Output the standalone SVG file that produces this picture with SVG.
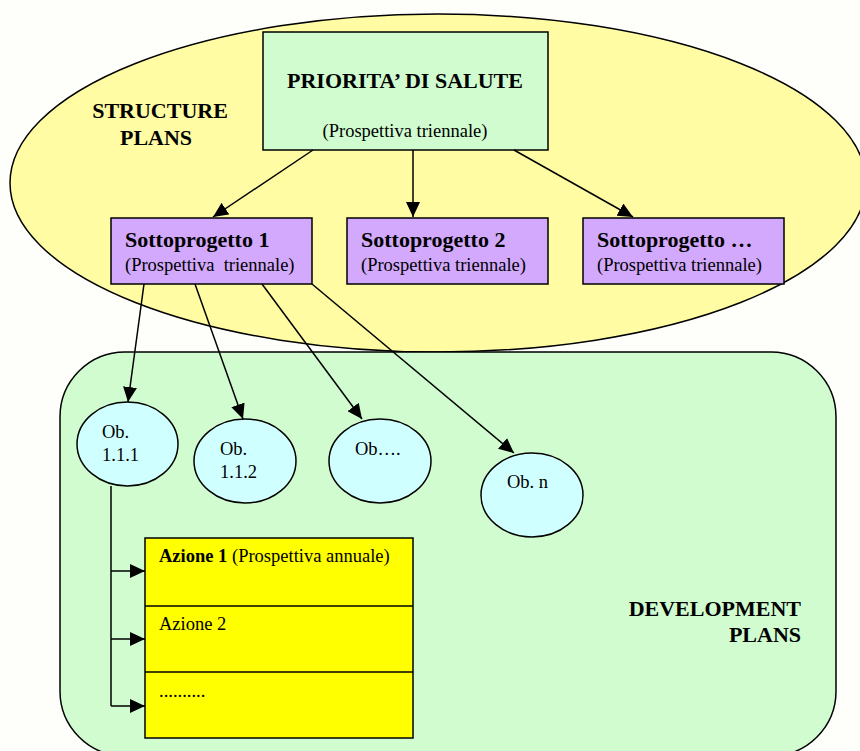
<svg xmlns="http://www.w3.org/2000/svg" width="860" height="751" viewBox="0 0 860 751">
<style>
.t{font-family:"Liberation Serif","Times New Roman",serif;fill:#000}
.b{font-weight:bold;font-size:22px}
.n{font-size:18.5px}
.ln{stroke:#000;stroke-width:1.5;fill:none}
.box{stroke:#000;stroke-width:1.5}
</style>
<defs>
<marker id="ah" markerUnits="userSpaceOnUse" markerWidth="16" markerHeight="14" refX="15" refY="7" orient="auto">
<path d="M0,0 L15,7 L0,14 z" fill="#000"/>
</marker>
</defs>
<rect width="860" height="751" fill="#fefefb"/>
<g id="structure-plans">
<ellipse cx="438" cy="183" rx="428" ry="169" fill="#fffca3" stroke="#000" stroke-width="1.5"/>
<text class="t b" x="160" y="118" text-anchor="middle">STRUCTURE</text>
<text class="t b" x="156" y="145" text-anchor="middle">PLANS</text>
</g>
<g id="development-plans">
<rect x="60" y="352" width="776" height="404" rx="65" ry="65" fill="#d0fcd0" stroke="#000" stroke-width="1.5"/>
<text class="t b" x="801" y="616" text-anchor="end">DEVELOPMENT</text>
<text class="t b" x="801" y="642" text-anchor="end">PLANS</text>
</g>
<g id="priorita">
<rect class="box" x="263" y="32" width="285" height="118" fill="#d0fcd0"/>
<text class="t b" x="405" y="88" text-anchor="middle">PRIORITA’ DI SALUTE</text>
<text class="t n" x="405" y="137" text-anchor="middle">(Prospettiva triennale)</text>
</g>
<g id="sottoprogetto1">
<rect class="box" x="111" y="218" width="201" height="66" fill="#d2a9fc"/>
<text class="t b" x="125" y="247">Sottoprogetto 1</text>
<text class="t n" x="125" y="271" xml:space="preserve">(Prospettiva  triennale)</text>
</g>
<g id="sottoprogetto2">
<rect class="box" x="347" y="218" width="201" height="66" fill="#d2a9fc"/>
<text class="t b" x="361" y="247">Sottoprogetto 2</text>
<text class="t n" x="361" y="271">(Prospettiva triennale)</text>
</g>
<g id="sottoprogetto3">
<rect class="box" x="583" y="218" width="201" height="66" fill="#d2a9fc"/>
<text class="t b" x="597" y="247">Sottoprogetto …</text>
<text class="t n" x="597" y="271">(Prospettiva triennale)</text>
</g>
<g id="ob111">
<ellipse class="box" cx="127.5" cy="444" rx="50.5" ry="42" fill="#d0ffff"/>
<text class="t n" x="102" y="438">Ob.</text>
<text class="t n" x="102" y="461">1.1.1</text>
</g>
<g id="ob112">
<ellipse class="box" cx="245" cy="461" rx="51" ry="42" fill="#d0ffff"/>
<text class="t n" x="220" y="455">Ob.</text>
<text class="t n" x="220" y="478">1.1.2</text>
</g>
<g id="ob-dots">
<ellipse class="box" cx="380" cy="461" rx="51" ry="42" fill="#d0ffff"/>
<text class="t n" x="355" y="455">Ob….</text>
</g>
<g id="ob-n">
<ellipse class="box" cx="532" cy="495" rx="51" ry="42" fill="#d0ffff"/>
<text class="t n" x="507" y="488">Ob. n</text>
</g>
<g id="azioni">
<rect class="box" x="145" y="538" width="268" height="200" fill="#ffff00"/>
<line class="ln" x1="145" y1="606" x2="413" y2="606"/>
<line class="ln" x1="145" y1="672" x2="413" y2="672"/>
<text class="t n" x="159" y="562"><tspan font-weight="bold">Azione 1</tspan> (Prospettiva annuale)</text>
<text class="t n" x="159" y="630">Azione 2</text>
<text class="t n" x="159" y="697">..........</text>
</g>
<g id="connectors">
<line class="ln" x1="313" y1="150" x2="213" y2="217" marker-end="url(#ah)"/>
<line class="ln" x1="413" y1="150" x2="413" y2="217" marker-end="url(#ah)"/>
<line class="ln" x1="514" y1="150" x2="633" y2="217" marker-end="url(#ah)"/>
<line class="ln" x1="144" y1="284" x2="128" y2="402" marker-end="url(#ah)"/>
<line class="ln" x1="195" y1="284" x2="243" y2="419" marker-end="url(#ah)"/>
<line class="ln" x1="262" y1="284" x2="362" y2="419" marker-end="url(#ah)"/>
<line class="ln" x1="312" y1="284" x2="514" y2="453" marker-end="url(#ah)"/>
<polyline class="ln" points="111,486 111,706"/>
<line class="ln" x1="111" y1="571" x2="145" y2="571" marker-end="url(#ah)"/>
<line class="ln" x1="111" y1="639" x2="145" y2="639" marker-end="url(#ah)"/>
<line class="ln" x1="111" y1="706" x2="145" y2="706" marker-end="url(#ah)"/>
</g>
</svg>
